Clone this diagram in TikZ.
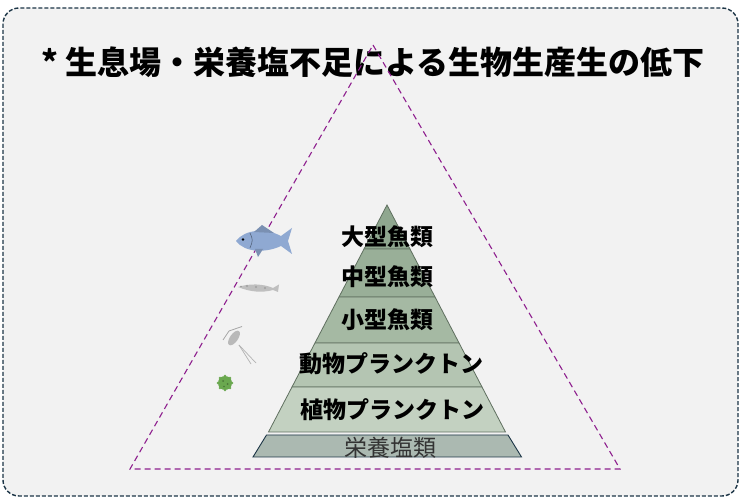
\documentclass[tikz,border=0pt]{standalone}
\usepackage{fontspec}
\setmainfont{Noto Sans CJK JP}
\usetikzlibrary{positioning,calc}

\definecolor{framecol}{HTML}{1C3546}
\definecolor{bggray}{HTML}{F2F2F2}
\definecolor{guidecol}{HTML}{8E1F8E}
\definecolor{layA}{HTML}{8FA78F}
\definecolor{layB}{HTML}{99AF98}
\definecolor{layC}{HTML}{A5B9A3}
\definecolor{layD}{HTML}{B4C5B2}
\definecolor{layE}{HTML}{C3D1C1}
\definecolor{saltcol}{HTML}{ABB9B1}
\definecolor{layedge}{HTML}{5F6F5F}
\definecolor{fishblue}{HTML}{8FA9D2}
\definecolor{phytogreen}{HTML}{6AA84F}

\begin{document}
\begin{tikzpicture}[
    x=1pt, y=-1pt,
    frame/.style={
        draw=framecol,
        line width=1.4pt,
        dash pattern=on 4pt off 2pt,
        rounded corners=16pt,
        fill=bggray
    },
    guide/.style={
        draw=guidecol,
        line width=1.1pt,
        dash pattern=on 6pt off 4pt
    },
    layer/.style={draw=layedge, line width=0.8pt},
    lbl/.style={font=\bfseries\fontsize{23}{23}\selectfont, inner sep=0pt},
    heading/.style={font=\bfseries\fontsize{32}{32}\selectfont, inner sep=0pt}
]
    \useasboundingbox (0,0) rectangle (742,502);
    %% 枠
    \draw[frame] (3,8) rectangle (738,496);

    %% 見出し
    \node[heading] (title) at (373,62) {* 生息場・栄養塩不足による生物生産生の低下};

    %% 点線の三角形
    \draw[guide] (373,45) -- (620,469) -- (130,469) -- cycle;

    %% ピラミッド(頂点 387,205)
    \foreach \ytop/\ybot/\col in {205/249/layA, 249/297/layB, 297/343/layC, 343/387/layD, 387/432/layE}
        \filldraw[layer, fill=\col]
            ({387-(\ytop-205)*0.522},\ytop) -- ({387+(\ytop-205)*0.522},\ytop)
            -- ({387+(\ybot-205)*0.522},\ybot) -- ({387-(\ybot-205)*0.522},\ybot) -- cycle;
    %% 栄養塩の帯
    \filldraw[draw=framecol, line width=0.9pt, fill=saltcol]
        (266.5,435) -- (508,435) -- (521.5,457) -- (253,457) -- cycle;

    %% 段のラベル
    \node[lbl] (bigfish)   at (387,237) {大型魚類};
    \node[lbl] (midfish)   at (387,277) {中型魚類};
    \node[lbl] (smallfish) at (387,320) {小型魚類};
    \node[lbl] (zoo)       at (391,364) {動物プランクトン};
    \node[lbl] (phyto)     at (392,410) {植物プランクトン};
    \node[lbl, font=\fontsize{23}{23}\selectfont, text=black!80] (salt) at (390,448) {栄養塩類};

    %% 大型魚
    \fill[fishblue] (236,241) .. controls (245,229) and (266,228) .. (281,236)
        -- (292,228) -- (288,241) -- (292,254) -- (281,246)
        .. controls (266,253) and (245,253) .. (236,241) -- cycle;
    \fill[fishblue!85!black] (254,232) -- (262,225) -- (274,233) -- cycle;
    \fill[fishblue!85!black] (255,249) -- (258,257) -- (263,249) -- cycle;
    \draw[fishblue!60!black, line width=0.6pt] (250,233) .. controls (253,240) .. (250,248);
    \fill[black] (243,239.5) circle (1.4);

    %% 小型魚
    \fill[gray!50] (238,287) .. controls (250,283) and (264,284) .. (273,288)
        -- (279,284.5) -- (278,292) -- (273,290)
        .. controls (262,293) and (250,292) .. (238,287) -- cycle;
    \fill[gray!75] (247,286) circle (1.2) (256,287) circle (1.2) (265,288) circle (1.1);
    \fill[gray!80] (241,286.5) circle (0.9);

    %% 動物プランクトン
    \fill[gray!55, rotate around={55:(234,338)}] (234,338) ellipse (8.5 and 4);
    \draw[gray!70, line width=0.8pt] (229,331) -- (242,326.5);
    \draw[gray!70, line width=0.8pt] (229,331) -- (223,340);
    \draw[gray!60, line width=0.7pt] (239,345) -- (256,363);
    \draw[gray!60, line width=0.7pt] (239,345) -- (251,364);

    %% 植物プランクトン
    \fill[phytogreen] (225,383) circle (7);
    \foreach \a in {0,45,...,315}
        \fill[phytogreen] ($(225,383)+(\a:7)$) circle (1.4);
    \fill[phytogreen!70!black] (223,381) circle (1) (227.5,384) circle (1) (224,386.5) circle (0.9);
\end{tikzpicture}
\end{document}
